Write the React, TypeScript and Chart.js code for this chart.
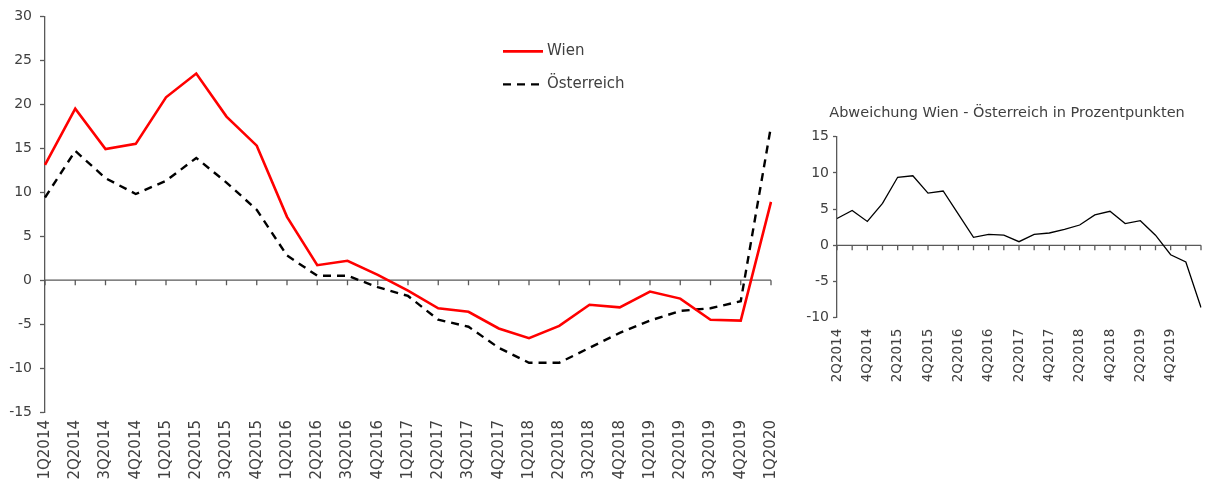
import React, { useEffect, useRef } from "react";
import { Chart, registerables } from "chart.js";

Chart.register(...registerables);

const categories = [
  "1Q2014", "2Q2014", "3Q2014", "4Q2014",
  "1Q2015", "2Q2015", "3Q2015", "4Q2015",
  "1Q2016", "2Q2016", "3Q2016", "4Q2016",
  "1Q2017", "2Q2017", "3Q2017", "4Q2017",
  "1Q2018", "2Q2018", "3Q2018", "4Q2018",
  "1Q2019", "2Q2019", "3Q2019", "4Q2019",
  "1Q2020",
];

const wien = [
  13.1, 19.5, 14.9, 15.5, 20.8, 23.5, 18.6, 15.3, 7.2, 1.7, 2.2, 0.6,
  -1.2, -3.2, -3.6, -5.5, -6.6, -5.2, -2.8, -3.1, -1.3, -2.1, -4.5, -4.6, 8.9,
];

const oesterreich = [
  9.4, 14.7, 11.6, 9.8, 11.3, 13.9, 11.1, 8.0, 2.8, 0.5, 0.5, -0.8,
  -1.8, -4.5, -5.3, -7.7, -9.4, -9.4, -7.7, -6.0, -4.6, -3.5, -3.2, -2.4, 17.5,
];

// small chart: categories as labelled in the reference (shifted by one quarter)
const diffCategories = [
  "2Q2014", "3Q2014", "4Q2014", "1Q2015",
  "2Q2015", "3Q2015", "4Q2015", "1Q2016",
  "2Q2016", "3Q2016", "4Q2016", "1Q2017",
  "2Q2017", "3Q2017", "4Q2017", "1Q2018",
  "2Q2018", "3Q2018", "4Q2018", "1Q2019",
  "2Q2019", "3Q2019", "4Q2019", "1Q2020",
  "2Q2020",
];

const abweichung = [
  3.7, 4.8, 3.3, 5.8, 9.4, 9.6, 7.2, 7.5, 4.3, 1.1, 1.5, 1.4,
  0.5, 1.5, 1.7, 2.2, 2.8, 4.2, 4.7, 3.0, 3.4, 1.4, -1.3, -2.3, -8.6,
];

const mainYTicks = [-15, -10, -5, 0, 5, 10, 15, 20, 25, 30];
const smallYTicks = [-10, -5, 0, 5, 10, 15];

const FONT = "'DejaVu Sans', sans-serif";
const TEXT = "#404040";
const AXIS = "#595959";

const zeroAxisPlugin = {
  id: "zeroAxis",
  beforeDatasetsDraw(chart: any, _args: any, opts: any) {
    const { ctx, chartArea, scales } = chart;
    const x = scales.x;
    const y = scales.y;
    const y0 = y.getPixelForValue(0);
    ctx.save();
    ctx.strokeStyle = AXIS;
    ctx.lineWidth = opts.width || 1.3;
    ctx.beginPath();
    ctx.moveTo(chartArea.left, y0);
    ctx.lineTo(chartArea.right, y0);
    const n = chart.data.labels.length;
    for (let i = 0; i < n; i++) {
      const px = x.getPixelForValue(i);
      ctx.moveTo(px, y0);
      ctx.lineTo(px, y0 + (opts.len || 5));
    }
    ctx.stroke();
    ctx.restore();
  },
};

const innerLegendPlugin = {
  id: "innerLegend",
  afterDatasetsDraw(chart: any, _args: any, opts: any) {
    if (!opts || !opts.display) return;
    const { ctx, chartArea } = chart;
    const x0 = chartArea.left + opts.dx;
    const rows = chart.data.datasets;
    ctx.save();
    rows.forEach((ds: any, i: number) => {
      const yy = chartArea.top + opts.dy + i * opts.rowGap;
      ctx.strokeStyle = ds.borderColor;
      ctx.lineWidth = ds.borderWidth;
      ctx.setLineDash(ds.borderDash || []);
      ctx.beginPath();
      ctx.moveTo(x0, yy);
      ctx.lineTo(x0 + opts.sample, yy);
      ctx.stroke();
      ctx.setLineDash([]);
      ctx.fillStyle = TEXT;
      ctx.font = `15px ${FONT}`;
      ctx.textBaseline = "middle";
      ctx.textAlign = "left";
      ctx.fillText(ds.label, x0 + opts.sample + 4, yy);
    });
    ctx.restore();
  },
};

// shift the title block so it is centred where the reference has it
const titleShiftPlugin = {
  id: "titleShift",
  afterLayout(chart: any, _args: any, opts: any) {
    const t = chart.titleBlock;
    if (!t || !opts || opts.leftInset == null) return;
    t.left = chart.chartArea.left - opts.leftInset;
    t.right = chart.chartArea.right;
  },
};

const noSidePadding = (s: any) => {
  s.paddingLeft = 0;
  s.paddingRight = 0;
};

export default function App() {
  const mainRef = useRef<HTMLCanvasElement>(null);
  const smallRef = useRef<HTMLCanvasElement>(null);

  useEffect(() => {
    const main = new Chart(mainRef.current!, {
      type: "line",
      data: {
        labels: categories,
        datasets: [
          {
            label: "Wien",
            data: wien,
            borderColor: "#ff0000",
            borderWidth: 2.6,
            pointRadius: 0,
            tension: 0,
            fill: false,
          },
          {
            label: "Österreich",
            data: oesterreich,
            borderColor: "#000000",
            borderWidth: 2.4,
            borderDash: [8, 6],
            pointRadius: 0,
            tension: 0,
            fill: false,
          },
        ],
      },
      options: {
        animation: false,
        responsive: false,
        maintainAspectRatio: false,
        layout: { padding: { top: 12, right: 29, left: 0, bottom: 0 } },
        plugins: {
          legend: { display: false },
          tooltip: { enabled: false },
          zeroAxis: { len: 5, width: 1.3 },
          innerLegend: { display: true, dx: 458, dy: 35, rowGap: 33, sample: 40 },
        } as any,
        scales: {
          x: {
            type: "category",
            offset: false,
            grid: { display: false, drawTicks: false, tickLength: 0 },
            border: { display: false },
            ticks: {
              autoSkip: false,
              minRotation: 90,
              maxRotation: 90,
              padding: 8,
              color: TEXT,
              font: { family: FONT, size: 15 },
            },
            afterFit: (s: any) => { s.height = 71; noSidePadding(s); },
          },
          y: {
            min: -15,
            max: 30,
            afterBuildTicks: (s: any) => { s.ticks = mainYTicks.map((v) => ({ value: v })); },
            grid: { drawOnChartArea: false, drawTicks: true, tickLength: 5, tickColor: AXIS, tickWidth: 1.3 },
            border: { display: true, color: AXIS, width: 1.3 },
            ticks: { padding: 8, color: TEXT, font: { family: FONT, size: 14 } },
            afterFit: (s: any) => { s.width = 45; },
          },
        },
      },
      plugins: [zeroAxisPlugin, innerLegendPlugin],
    });

    const small = new Chart(smallRef.current!, {
      type: "line",
      data: {
        labels: diffCategories,
        datasets: [
          {
            label: "Abweichung Wien - Österreich in Prozentpunkten",
            data: abweichung,
            borderColor: "#000000",
            borderWidth: 1.3,
            pointRadius: 0,
            tension: 0,
            fill: false,
          },
        ],
      },
      options: {
        animation: false,
        responsive: false,
        maintainAspectRatio: false,
        layout: { padding: { top: 0, right: 6, left: 10, bottom: 0 } },
        plugins: {
          legend: { display: false },
          tooltip: { enabled: false },
          title: {
            display: true,
            text: "Abweichung Wien - Österreich in Prozentpunkten",
            color: TEXT,
            font: { family: FONT, size: 14.5, weight: "normal", lineHeight: 1.2 },
            padding: { top: 5, bottom: 14.3 },
          },
          titleShift: { leftInset: 24 },
          zeroAxis: { len: 5, width: 1.3 },
        } as any,
        scales: {
          x: {
            type: "category",
            offset: false,
            grid: { display: false, drawTicks: false, tickLength: 0 },
            border: { display: false },
            ticks: {
              autoSkip: false,
              minRotation: 90,
              maxRotation: 90,
              padding: 11,
              color: TEXT,
              font: { family: FONT, size: 13.5 },
              callback: (_v: any, i: number) => (i % 2 === 0 && i < diffCategories.length - 1 ? diffCategories[i] : ""),
            },
            afterFit: (s: any) => { s.height = 82.3; noSidePadding(s); },
          },
          y: {
            min: -10,
            max: 15,
            afterBuildTicks: (s: any) => { s.ticks = smallYTicks.map((v) => ({ value: v })); },
            grid: { drawOnChartArea: false, drawTicks: true, tickLength: 4, tickColor: AXIS, tickWidth: 1.3 },
            border: { display: true, color: AXIS, width: 1.3 },
            ticks: { padding: 4, color: TEXT, font: { family: FONT, size: 14 } },
            afterFit: (s: any) => { s.width = 37; },
          },
        },
      },
      plugins: [zeroAxisPlugin, titleShiftPlugin],
    });

    return () => {
      main.destroy();
      small.destroy();
    };
  }, []);

  return (
    <div style={{ position: "absolute", left: 0, top: 0, width: 1207, height: 483, overflow: "hidden", background: "#fff" }}>
      <canvas ref={mainRef} width={800} height={483} style={{ position: "absolute", left: 0, top: 0, width: 800, height: 483 }} />
      <canvas ref={smallRef} width={417} height={300} style={{ position: "absolute", left: 790, top: 100, width: 417, height: 300 }} />
    </div>
  );
}
